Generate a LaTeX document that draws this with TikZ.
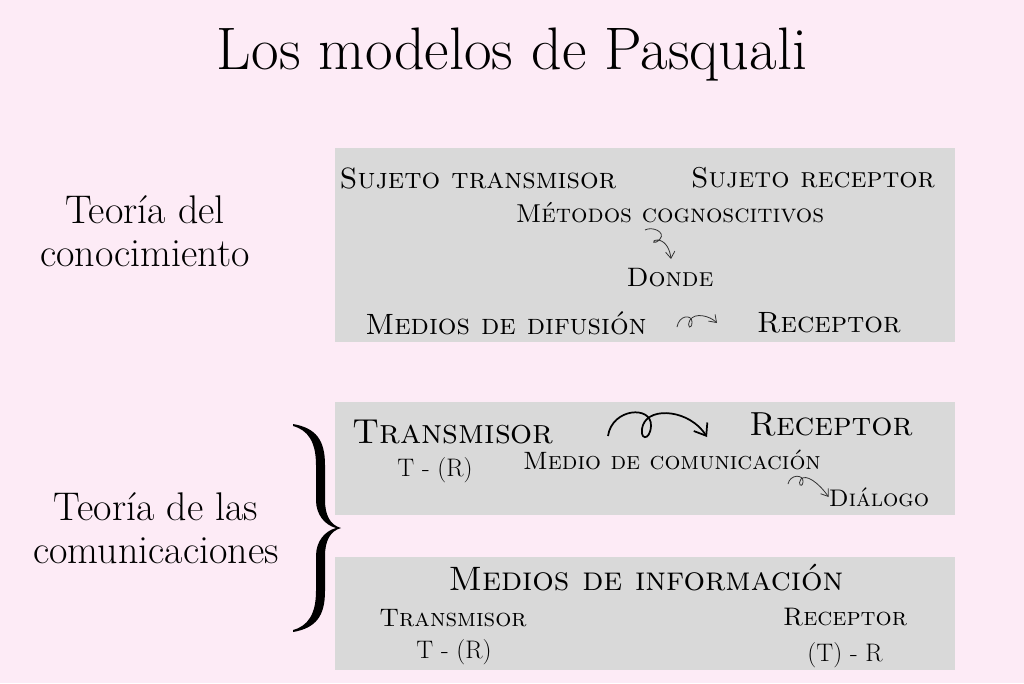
\documentclass[tikz,border=0pt]{standalone}
\usepackage{fontspec}
\usetikzlibrary{arrows.meta}
\definecolor{bgpink}{RGB}{253,235,246}
\definecolor{boxgray}{RGB}{217,217,217}
\begin{document}
\begin{tikzpicture}[x=0.75pt,y=-0.75pt,
  panel/.style={fill=boxgray,draw=none},
  sc/.style={inner sep=0pt,font=\fontsize{#1}{#1}\selectfont\scshape},
  rm/.style={inner sep=0pt,font=\fontsize{#1}{#1}\selectfont},
  lbl/.style={inner sep=0pt,align=center,font=\fontsize{30}{32}\selectfont},
  curl/.style={draw=black!80,line width=0.6pt,-{Straight Barb[length=5pt,width=7pt]}},
  bigcurl/.style={draw=black,line width=1.3pt,-{Straight Barb[length=8pt,width=12pt,line width=1.3pt]}}]
\fill[bgpink] (0,0) rectangle (1024,683);
\useasboundingbox (0,0) rectangle (1024,683);
% panels
\path[panel] (335,148) rectangle (955,342);
\path[panel] (335,402) rectangle (955,515);
\path[panel] (335,557) rectangle (955,670);
% title
\node[rm=45] (title) at (512,55) {Los modelos de Pasquali};
% left labels
\node[lbl] (teo1) at (145,231) {Teoría del\\conocimiento};
\node[lbl] (teo2) at (156,528) {Teoría de las\\comunicaciones};
% brace
\fill[black] (293,424) .. controls (316,428) and (325,440) .. (325,465) -- (325,500)
  .. controls (325,515) and (330,525) .. (341,528)
  .. controls (330,531) and (325,541) .. (325,556) -- (325,591)
  .. controls (325,616) and (316,628) .. (293,632)
  -- (293,630) .. controls (308,626) and (316,614) .. (316,591) -- (316,556)
  .. controls (316,541) and (325,531) .. (336,528)
  .. controls (325,525) and (316,515) .. (316,500) -- (316,465)
  .. controls (316,442) and (308,430) .. (293,426) -- cycle;
% panel 1
\node[sc=22] (st) at (478,178) {Sujeto transmisor};
\node[sc=21.5] (sr) at (813,178) {Sujeto receptor};
\node[sc=19.4] (mc) at (670,213) {Métodos cognoscitivos};
\node[sc=20] (donde) at (670,278) {Donde};
\node[sc=22] (md) at (506,323) {Medios de difusión};
\node[sc=22] (rec1) at (829,323) {Receptor};
\coordinate (a1s) at (645,230);
\coordinate (a1e) at (671,259);
\draw[curl] (a1s) .. controls (652,226) and (666,232) .. (660,239)
  .. controls (654,246) and (650,240) .. (658,240)
  .. controls (666,241) and (670,250) .. (a1e);
\coordinate (a2s) at (677,327);
\coordinate (a2e) at (717,323);
\draw[curl] (a2s) .. controls (679,315) and (692,314) .. (692,322)
  .. controls (692,330) and (686,328) .. (690,320)
  .. controls (695,312) and (710,316) .. (a2e);
% panel 2
\node[sc=26] (tr) at (453,432) {Transmisor};
\node[sc=25] (rec2) at (831,424) {Receptor};
\node[rm=19] (tr2) at (435,470) {T - (R)};
\node[sc=18.8] (mcom) at (672,460) {Medio de comunicación};
\node[sc=18] (dial) at (879,497) {Diálogo};
\coordinate (a3s) at (608,436);
\coordinate (a3e) at (707,437);
\draw[bigcurl] (a3s) .. controls (612,408) and (652,405) .. (651,426)
  .. controls (650,442) and (638,440) .. (643,425)
  .. controls (650,406) and (690,410) .. (a3e);
\coordinate (a4s) at (788,484);
\draw[curl] (a4s) .. controls (790,474) and (804,474) .. (803,482)
  .. controls (802,489) and (797,484) .. (801,479)
  .. controls (806,474) and (818,482) .. (dial.west);
% panel 3
\node[sc=25.4] (mi) at (646,578) {Medios de información};
\node[sc=19] (tr3) at (453,618) {Transmisor};
\node[rm=19] (tr4) at (454,652) {T - (R)};
\node[sc=19] (rec3) at (845,617) {Receptor};
\node[rm=19] (rec4) at (845,655) {(T) - R};
\end{tikzpicture}
\end{document}
